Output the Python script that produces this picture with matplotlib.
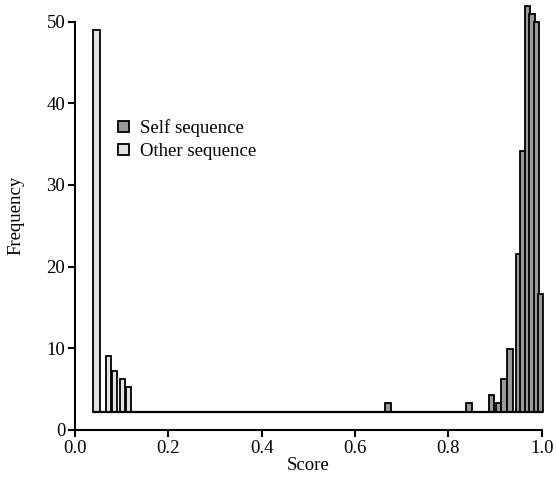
import matplotlib
matplotlib.use('Agg')
import matplotlib.pyplot as plt

# score bins (bar centres) and bar tops
other_score = [0.046, 0.072, 0.085, 0.102, 0.115]
other_freq = [49.0, 9.0, 7.2, 6.3, 5.3]

self_score = [0.671, 0.844, 0.893, 0.907, 0.919, 0.932, 0.950, 0.960, 0.969,
              0.979, 0.989, 0.998]
self_freq = [3.3, 3.3, 4.3, 3.3, 6.3, 9.9, 21.5, 34.1, 51.9, 50.9, 50.0, 16.7]

base = 2.2
bar_w = 0.0115

plt.rcParams['font.family'] = ['Liberation Serif', 'DejaVu Serif']
plt.rcParams['font.size'] = 13

fig = plt.figure(figsize=(5.57, 4.79), dpi=100)
ax = fig.add_axes([0.1346, 0.1023, 0.8379, 0.8954])

# first bin is drawn a little wider in the original
other_w = [0.016] + [bar_w] * (len(other_score) - 1)
ax.bar(other_score, [f - base for f in other_freq], width=other_w, bottom=base,
       color='#e2e2e2', edgecolor='black', linewidth=1.3, label='Other sequence',
       clip_on=False, zorder=3)
ax.bar(self_score, [f - base for f in self_freq], width=bar_w, bottom=base,
       color='#9a9a9a', edgecolor='black', linewidth=1.3, label='Self sequence',
       clip_on=False, zorder=3)

# baseline joining the bar bottoms
x0 = other_score[0] - other_w[0] / 2
x1 = self_score[-1] + bar_w / 2
ax.hlines(base, x0, x1, color='black', linewidth=1.6, zorder=4, clip_on=False)

ax.set_xlim(0, 1)
ax.set_ylim(0, 52.5)
ax.set_xticks([0, 0.2, 0.4, 0.6, 0.8, 1.0])
ax.set_xticklabels(['0.0', '0.2', '0.4', '0.6', '0.8', '1.0'])
ax.set_yticks([0, 10, 20, 30, 40, 50])

for s in ['top', 'right']:
    ax.spines[s].set_visible(False)
ax.spines['left'].set_bounds(0, 50)
ax.spines['bottom'].set_bounds(0, 1)
ax.spines['left'].set_linewidth(1.5)
ax.spines['bottom'].set_linewidth(1.5)
ax.tick_params(direction='out', length=5, width=1.5, pad=2, labelsize=13.5)

ax.set_xlabel('Score', fontsize=13.5, labelpad=0)
ax.set_ylabel('Frequency', fontsize=13.5, labelpad=16)

h, l = ax.get_legend_handles_labels()
ax.legend(h[::-1], l[::-1], loc='upper left', bbox_to_anchor=(0.077, 0.742),
          frameon=False, handlelength=0.55, handleheight=0.55, handletextpad=0.6,
          labelspacing=0.32, fontsize=13.5, borderaxespad=0)

fig.savefig('out.png', dpi=100)
